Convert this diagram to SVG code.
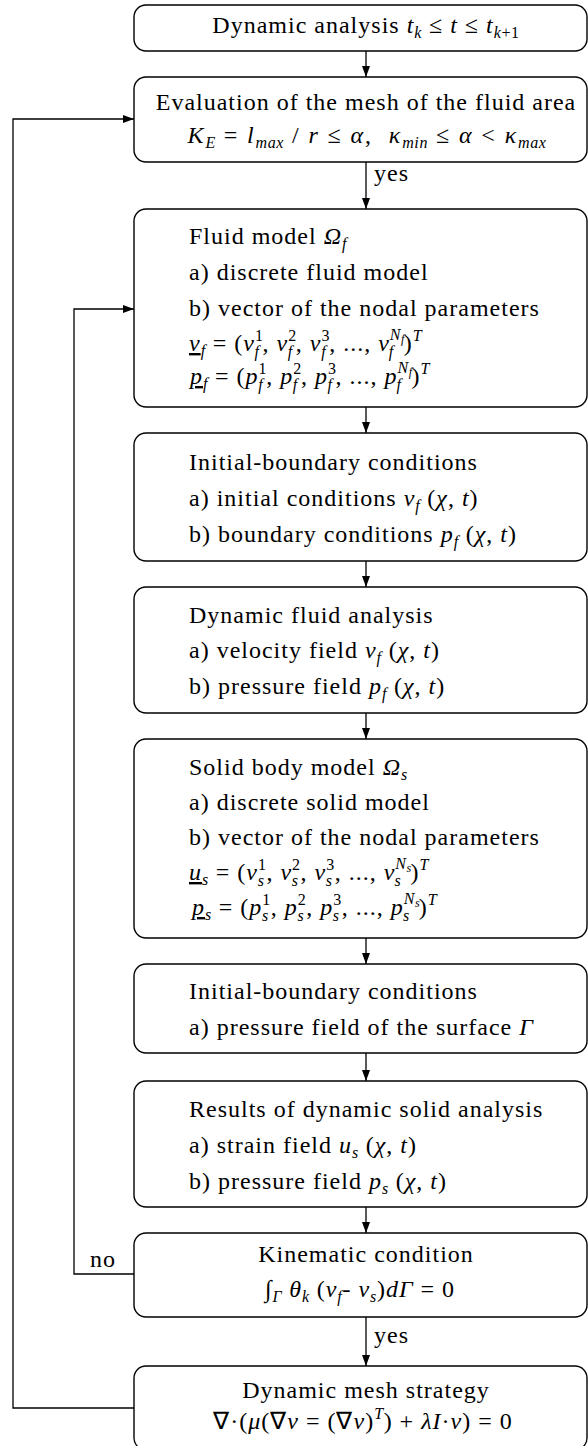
<svg xmlns="http://www.w3.org/2000/svg" width="588" height="1446" viewBox="0 0 588 1446">
<style>
.box{fill:#fff;stroke:#000;stroke-width:1.4}
.ln{fill:none;stroke:#000;stroke-width:1.3}
.t{font-family:'Liberation Serif','Times New Roman',serif;font-size:24px;letter-spacing:1px;fill:#000}
.c{text-anchor:middle}
.w{letter-spacing:1.9px}
.i{font-style:italic}
.s{font-size:16px;letter-spacing:0.6px}
.ss{font-size:12px;letter-spacing:0.3px}
.u{text-decoration:underline}
</style>
<defs>
<marker id="ah" markerWidth="11" markerHeight="8" refX="11" refY="4" orient="auto" markerUnits="userSpaceOnUse">
<path d="M0,0 L11,4 L0,8 Z" fill="#000"/>
</marker>
</defs>
<rect width="588" height="1446" fill="#fff"/>

<g id="connectors">
<line class="ln" x1="366" y1="51" x2="366" y2="77" marker-end="url(#ah)"/>
<line class="ln" x1="366" y1="162" x2="366" y2="209" marker-end="url(#ah)"/>
<line class="ln" x1="366" y1="407" x2="366" y2="433" marker-end="url(#ah)"/>
<line class="ln" x1="366" y1="561" x2="366" y2="587" marker-end="url(#ah)"/>
<line class="ln" x1="366" y1="713" x2="366" y2="739" marker-end="url(#ah)"/>
<line class="ln" x1="366" y1="938" x2="366" y2="964" marker-end="url(#ah)"/>
<line class="ln" x1="366" y1="1053" x2="366" y2="1081" marker-end="url(#ah)"/>
<line class="ln" x1="366" y1="1207" x2="366" y2="1233" marker-end="url(#ah)"/>
<line class="ln" x1="366" y1="1317" x2="366" y2="1366" marker-end="url(#ah)"/>
<polyline class="ln" points="134,1408 13,1408 13,119 134,119" marker-end="url(#ah)"/>
<polyline class="ln" points="134,1274 74,1274 74,309 134,309" marker-end="url(#ah)"/>
<text class="t" x="374" y="181">yes</text>
<text class="t" x="374" y="1343">yes</text>
<text class="t" x="90" y="1267">no</text>
</g>

<g id="n1">
<rect class="box" x="134" y="5" width="453" height="46" rx="12"/>
<text class="t c" x="366" y="33">Dynamic analysis <tspan class="i">t</tspan><tspan class="s i" dy="5">k</tspan><tspan dy="-5"> ≤ </tspan><tspan class="i">t</tspan> ≤ <tspan class="i">t</tspan><tspan class="s" dy="5"><tspan class="i">k</tspan>+1</tspan></text>
</g>

<g id="n2">
<rect class="box" x="134" y="77" width="453" height="85" rx="12"/>
<text class="t c" x="366" y="110">Evaluation of the mesh of the fluid area</text>
<text class="t c w" x="367" y="143"><tspan class="i">K</tspan><tspan class="s i" dy="5">E</tspan><tspan dy="-5"> = </tspan><tspan class="i">l</tspan><tspan class="s i" dy="5">max</tspan><tspan dy="-5"> / </tspan><tspan class="i">r</tspan> ≤ <tspan class="i">α</tspan>,&#160;&#160;<tspan class="i">κ</tspan><tspan class="s i" dy="5">min</tspan><tspan dy="-5"> ≤ </tspan><tspan class="i">α</tspan> &lt; <tspan class="i">κ</tspan><tspan class="s i" dy="5">max</tspan></text>
</g>

<g id="n3">
<rect class="box" x="134" y="209" width="453" height="198" rx="12"/>
<text class="t" x="189" y="244">Fluid model <tspan class="i">Ω</tspan><tspan class="s i" dy="5">f</tspan></text>
<text class="t" x="189" y="280">a) discrete fluid model</text>
<text class="t" x="189" y="316">b) vector of the nodal parameters</text>
<text class="t" x="189" y="351"><tspan class="i u">v</tspan><tspan class="s i" dy="5">f</tspan><tspan dy="-5"> = (</tspan><tspan class="i">v</tspan><tspan class="s" dy="-10">1</tspan><tspan class="s i" dx="-9" dy="16">f</tspan><tspan dx="3" dy="-6">, </tspan><tspan class="i">v</tspan><tspan class="s" dy="-10">2</tspan><tspan class="s i" dx="-9" dy="16">f</tspan><tspan dx="3" dy="-6">, </tspan><tspan class="i">v</tspan><tspan class="s" dy="-10">3</tspan><tspan class="s i" dx="-9" dy="16">f</tspan><tspan dx="3" dy="-6">, ..., </tspan><tspan class="i">v</tspan><tspan class="s i" dy="-11">N</tspan><tspan class="ss i" dy="3">f</tspan><tspan class="s i" dx="-16" dy="14">f</tspan><tspan dx="10" dy="-6">)</tspan><tspan class="s i" dy="-10">T</tspan></text>
<text class="t" x="190" y="384"><tspan class="i u">p</tspan><tspan class="s i" dy="5">f</tspan><tspan dy="-5"> = (</tspan><tspan class="i">p</tspan><tspan class="s" dy="-10">1</tspan><tspan class="s i" dx="-9" dy="16">f</tspan><tspan dx="3" dy="-6">, </tspan><tspan class="i">p</tspan><tspan class="s" dy="-10">2</tspan><tspan class="s i" dx="-9" dy="16">f</tspan><tspan dx="3" dy="-6">, </tspan><tspan class="i">p</tspan><tspan class="s" dy="-10">3</tspan><tspan class="s i" dx="-9" dy="16">f</tspan><tspan dx="3" dy="-6">, ..., </tspan><tspan class="i">p</tspan><tspan class="s i" dy="-11">N</tspan><tspan class="ss i" dy="3">f</tspan><tspan class="s i" dx="-16" dy="14">f</tspan><tspan dx="10" dy="-6">)</tspan><tspan class="s i" dy="-10">T</tspan></text>
</g>

<g id="n4">
<rect class="box" x="134" y="433" width="453" height="128" rx="12"/>
<text class="t" x="189" y="470">Initial-boundary conditions</text>
<text class="t" x="189" y="506">a) initial conditions <tspan class="i">v</tspan><tspan class="s i" dy="5">f</tspan><tspan dy="-5"> (</tspan><tspan class="i">χ</tspan>, <tspan class="i">t</tspan>)</text>
<text class="t" x="189" y="542">b) boundary conditions <tspan class="i">p</tspan><tspan class="s i" dy="5">f</tspan><tspan dy="-5"> (</tspan><tspan class="i">χ</tspan>, <tspan class="i">t</tspan>)</text>
</g>

<g id="n5">
<rect class="box" x="134" y="587" width="453" height="126" rx="12"/>
<text class="t" x="189" y="623">Dynamic fluid analysis</text>
<text class="t" x="189" y="658">a) velocity field <tspan class="i">v</tspan><tspan class="s i" dy="5">f</tspan><tspan dy="-5"> (</tspan><tspan class="i">χ</tspan>, <tspan class="i">t</tspan>)</text>
<text class="t" x="189" y="694">b) pressure field <tspan class="i">p</tspan><tspan class="s i" dy="5">f</tspan><tspan dy="-5"> (</tspan><tspan class="i">χ</tspan>, <tspan class="i">t</tspan>)</text>
</g>

<g id="n6">
<rect class="box" x="134" y="739" width="453" height="199" rx="12"/>
<text class="t" x="189" y="775">Solid body model <tspan class="i">Ω</tspan><tspan class="s i" dy="5">s</tspan></text>
<text class="t" x="189" y="810">a) discrete solid model</text>
<text class="t" x="189" y="845">b) vector of the nodal parameters</text>
<text class="t" x="189" y="880"><tspan class="i u">u</tspan><tspan class="s i" dy="5">s</tspan><tspan dy="-5"> = (</tspan><tspan class="i">v</tspan><tspan class="s" dy="-10">1</tspan><tspan class="s i" dx="-9" dy="16">s</tspan><tspan dx="2" dy="-6">, </tspan><tspan class="i">v</tspan><tspan class="s" dy="-10">2</tspan><tspan class="s i" dx="-9" dy="16">s</tspan><tspan dx="2" dy="-6">, </tspan><tspan class="i">v</tspan><tspan class="s" dy="-10">3</tspan><tspan class="s i" dx="-9" dy="16">s</tspan><tspan dx="2" dy="-6">, ..., </tspan><tspan class="i">v</tspan><tspan class="s i" dy="-11">N</tspan><tspan class="ss i" dy="3">s</tspan><tspan class="s i" dx="-17" dy="14">s</tspan><tspan dx="9" dy="-6">)</tspan><tspan class="s i" dy="-10">T</tspan></text>
<text class="t" x="192" y="915"><tspan class="i u">p</tspan><tspan class="s i" dy="5">s</tspan><tspan dy="-5"> = (</tspan><tspan class="i">p</tspan><tspan class="s" dy="-10">1</tspan><tspan class="s i" dx="-9" dy="16">s</tspan><tspan dx="2" dy="-6">, </tspan><tspan class="i">p</tspan><tspan class="s" dy="-10">2</tspan><tspan class="s i" dx="-9" dy="16">s</tspan><tspan dx="2" dy="-6">, </tspan><tspan class="i">p</tspan><tspan class="s" dy="-10">3</tspan><tspan class="s i" dx="-9" dy="16">s</tspan><tspan dx="2" dy="-6">, ..., </tspan><tspan class="i">p</tspan><tspan class="s i" dy="-11">N</tspan><tspan class="ss i" dy="3">s</tspan><tspan class="s i" dx="-17" dy="14">s</tspan><tspan dx="9" dy="-6">)</tspan><tspan class="s i" dy="-10">T</tspan></text>
</g>

<g id="n7">
<rect class="box" x="134" y="964" width="453" height="89" rx="12"/>
<text class="t" x="189" y="999">Initial-boundary conditions</text>
<text class="t" x="189" y="1035">a) pressure field of the surface <tspan class="i">Γ</tspan></text>
</g>

<g id="n8">
<rect class="box" x="134" y="1081" width="453" height="126" rx="12"/>
<text class="t" x="189" y="1117">Results of dynamic solid analysis</text>
<text class="t" x="189" y="1153">a) strain field <tspan class="i">u</tspan><tspan class="s i" dy="5">s</tspan><tspan dy="-5"> (</tspan><tspan class="i">χ</tspan>, <tspan class="i">t</tspan>)</text>
<text class="t" x="189" y="1189">b) pressure field <tspan class="i">p</tspan><tspan class="s i" dy="5">s</tspan><tspan dy="-5"> (</tspan><tspan class="i">χ</tspan>, <tspan class="i">t</tspan>)</text>
</g>

<g id="n9">
<rect class="box" x="134" y="1233" width="453" height="84" rx="12"/>
<text class="t c" x="366" y="1262">Kinematic condition</text>
<text class="t c" x="360" y="1297">∫<tspan class="s i" dy="5">Γ</tspan><tspan class="i" dy="-5"> θ</tspan><tspan class="s i" dy="5">k</tspan><tspan dy="-5"> (</tspan><tspan class="i">v</tspan><tspan class="s i" dy="5">f</tspan><tspan dy="-5">- </tspan><tspan class="i">v</tspan><tspan class="s i" dy="5">s</tspan><tspan dy="-5">)</tspan><tspan class="i">d</tspan><tspan class="i">Γ</tspan> = 0</text>
</g>

<g id="n10">
<rect class="box" x="134" y="1366" width="453" height="84" rx="12"/>
<text class="t c" x="366" y="1398">Dynamic mesh strategy</text>
<text class="t c" x="363" y="1429">∇·(<tspan class="i">μ</tspan>(∇<tspan class="i">v</tspan> = (∇<tspan class="i">v</tspan>)<tspan class="s i" dy="-10">T</tspan><tspan dy="10">) + </tspan><tspan class="i">λI</tspan>·<tspan class="i">v</tspan>) = 0</text>
</g>
</svg>
